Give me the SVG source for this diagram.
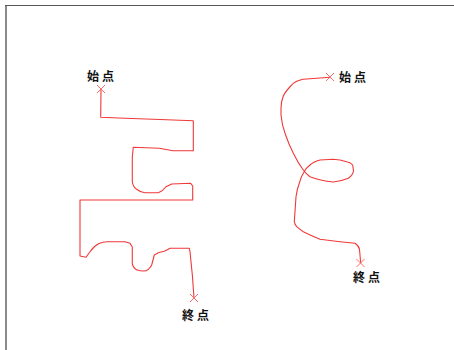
<svg xmlns="http://www.w3.org/2000/svg" width="454" height="350" viewBox="0 0 454 350">
<style>
.route{fill:none;stroke:#f03838;stroke-width:1.1;stroke-linejoin:round}
.mark{fill:none;stroke:#ff6a6a;stroke-width:1}
.lbl{font-family:"Noto Sans CJK JP","Noto Sans CJK SC",sans-serif;font-size:12px;font-weight:bold;fill:#111;letter-spacing:3px}
</style>
<rect width="454" height="350" fill="#fff"/>
<g id="frame">
<line x1="6" y1="5" x2="6" y2="350" stroke="#8a8a8a" stroke-width="2"/>
<line x1="5" y1="5.5" x2="454" y2="5.5" stroke="#555" stroke-width="1.2"/>
</g>
<g id="connectors">
<path id="route-left" class="route" d="M101,89 L100.7,117.3 L125,118.3 L160,119.5 L193.3,120.7 L193.3,150.7 L173,150.7 L159.3,148.3 L133.3,147.3 L132.3,157.3 L132.3,181.7 Q133,187 137,189.5 Q141,192.7 145,192.7 L158.3,192.7 Q163,191 166,186.7 L171.7,184 L190.7,183.3 L192.7,186 L192.7,200 L80,200 L80,256 L86,257.3 L90,251.7 Q94,246 99,243.5 Q103,241.7 107,241.7 L125,241.7 L130,243.3 L132.3,247 L132.3,264 Q134,269 137.3,270 Q140,271 143.3,271 Q146.5,271 148.3,269.3 Q151,267 151.7,265 L154.3,255 L158.3,252.7 L165,251 L170,248.3 L189.3,248.3 L190,251.7 L192.5,276.7 L194,298.3"/>
<path id="route-right" class="route" d="M330,77.3 L303.3,79.3 Q295,81 291.7,85 Q285,92 283.3,96 Q281,102 281,108 L281,115 Q282,125 285,133.3 Q289,145 293.3,153.3 Q298,163 303.3,170 Q306,174 310,176.7 Q320,180.5 333.3,182 Q342,181 348.3,178.3 Q353,175 353.5,171 L352.7,165 Q350,162 346.7,161.7 Q340,159.5 333.3,159.3 L320,160 Q313,162 310,165 Q306,168 304,172 Q301,177 300,181 Q297,189 296,196.7 L294.3,221.7 Q295,225 296.7,226.7 Q300,229.5 303.3,231.7 Q312,236 320,239.3 L340,241.7 L355,243.3 Q359,246 359.5,249.3 L360.7,263.3"/>
</g>
<g id="start-left">
<path class="mark" d="M97,85 L105,93 M105,85 L97,93"/>
<text class="lbl" x="87" y="81">始点</text>
</g>
<g id="end-left">
<path class="mark" d="M190,294 L198,302 M198,294 L190,302"/>
<text class="lbl" x="182" y="320">終点</text>
</g>
<g id="start-right">
<path class="mark" d="M326,73 L334,81 M334,73 L326,81"/>
<text class="lbl" x="339" y="82">始点</text>
</g>
<g id="end-right">
<path class="mark" d="M356.5,259 L364.5,267 M364.5,259 L356.5,267"/>
<text class="lbl" x="353" y="282">終点</text>
</g>
</svg>
